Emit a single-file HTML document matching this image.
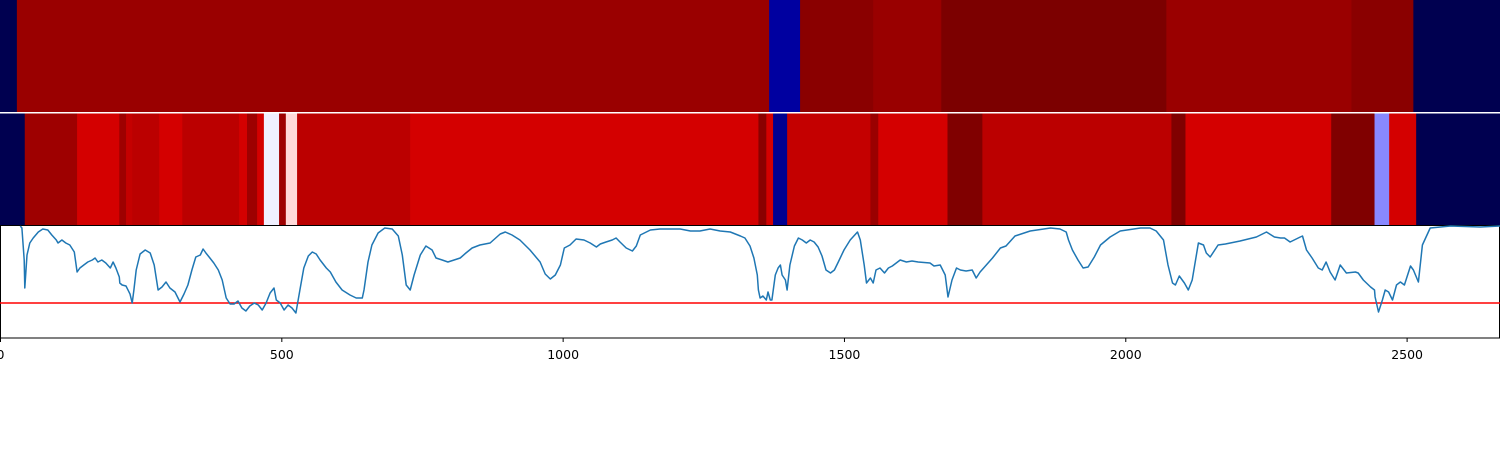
<!DOCTYPE html>
<html><head><meta charset="utf-8"><style>
body{margin:0;background:#fff}
svg{display:block}
text{font-family:"DejaVu Sans","Liberation Sans",sans-serif;font-size:12.5px;fill:#000}
</style></head><body>
<svg id="chart" width="1500" height="450" xmlns="http://www.w3.org/2000/svg">
<g id="topHeat"></g>
<g id="midHeat"></g>
<g id="plot"></g>
<g id="axis"></g>
</svg>
<script>
const xTicks=[0,500,1000,1500,2000,2500];
const topStarts=[0,30,1367,1422,1552,1673,2073,2402,2512];
const topColors=["#000050","#9a0000","#0000a0","#8a0000","#990000","#7c0000","#9a0000","#8a0000","#000050"];
const midStarts=[0,44,137,212,224,235,283,324,425,439,457,469,496,508,528,729,1348,1362,1374,1399,1547,1561,1684,1746,2082,2107,2366,2443,2469,2517];
const midColors=["#000050","#9e0000","#d40000","#9e0000","#c40000","#bb0000","#d40000","#bb0000","#d40000","#9e0000","#d40000","#f0f0ff","#9e0000","#ffd8d8","#bb0000","#d40000","#8a0000","#d40000","#000090","#c40000","#9a0000","#d40000","#800000","#bb0000","#800000","#d40000","#800000","#8888ff","#d40000","#000050"];
const lineX=[36,39,43,44,48,53,59,68,76,85,92,100,103,110,117,124,132,137,142,149,156,164,169,174,181,188,196,201,206,212,213,217,224,231,235,238,242,249,258,267,274,281,288,295,302,311,320,327,334,341,348,356,361,366,373,380,388,395,402,409,416,423,430,437,444,452,459,466,473,480,487,491,498,505,512,519,526,533,540,548,555,562,569,580,587,597,608,622,633,644,647,654,661,672,684,697,708,715,722,729,736,747,757,768,775,786,796,807,818,828,839,853,871,889,898,910,924,942,960,969,978,987,996,1003,1013,1024,1038,1049,1060,1067,1077,1088,1095,1102,1113,1124,1131,1138,1156,1173,1209,1227,1244,1262,1280,1298,1316,1324,1333,1340,1346,1348,1351,1356,1362,1365,1369,1372,1378,1383,1387,1390,1396,1399,1404,1412,1419,1426,1433,1440,1447,1454,1461,1468,1476,1483,1490,1500,1511,1524,1529,1536,1540,1547,1552,1557,1564,1572,1579,1586,1600,1611,1621,1632,1653,1660,1671,1680,1685,1692,1700,1707,1717,1728,1735,1742,1753,1764,1778,1788,1804,1831,1867,1884,1895,1899,1906,1916,1925,1934,1945,1956,1973,1991,2027,2044,2055,2068,2076,2084,2089,2096,2105,2112,2119,2130,2139,2144,2151,2165,2178,2204,2233,2251,2265,2276,2283,2293,2311,2315,2322,2332,2343,2350,2357,2364,2373,2382,2393,2409,2414,2423,2436,2443,2444,2450,2457,2462,2468,2475,2482,2489,2496,2507,2512,2521,2528,2542,2578,2631,2666];
const lineY=[112,110,78,50,83,95,100,106,109,108,103,98,95,98,95,93,86,66,70,73,76,78,80,76,78,75,70,76,70,61,55,53,52,44,35,48,68,84,88,85,73,48,51,56,50,46,36,44,53,68,81,83,89,85,80,75,68,58,40,34,34,37,30,27,32,35,33,28,35,45,50,38,35,28,33,30,25,48,70,82,86,84,78,70,66,56,48,43,40,40,48,76,93,105,110,109,102,83,53,48,63,83,92,88,80,78,76,78,80,85,90,93,95,104,106,103,98,88,76,64,59,63,73,90,93,99,98,95,91,94,96,98,100,96,90,87,92,103,108,109,109,107,107,109,107,106,102,100,92,80,63,48,40,42,38,46,38,38,63,70,73,63,58,48,73,92,100,98,95,98,96,91,82,68,65,68,76,88,98,106,98,73,55,60,55,68,70,65,70,72,78,76,77,76,75,72,73,63,41,58,70,68,67,68,60,66,73,80,90,92,102,107,110,109,106,98,88,78,70,71,81,93,101,107,110,110,107,98,73,55,53,62,55,48,58,95,93,85,81,93,94,97,101,106,101,100,100,96,101,102,88,80,70,68,76,66,58,73,65,66,65,58,51,48,41,26,38,48,46,38,53,56,53,72,68,56,93,110,112,111,112,112];
const threshold=35;
const W=1500, XMAX=2666;
const xS=v=>v/XMAX*W;
const yS=v=>338-v;
const NS="http://www.w3.org/2000/svg";
function mk(t,a,p){const e=document.createElementNS(NS,t);for(const k in a)e.setAttribute(k,a[k]);p.appendChild(e);return e;}
function heat(g,starts,colors,y0,h){
  for(let i=0;i<starts.length;i++){
    const x0=xS(starts[i]),x1=i+1<starts.length?xS(starts[i+1]):W;
    const r=mk("rect",{x:x0,y:y0,width:x1-x0+0.5,height:h,fill:colors[i]},g);
    
    
  }
}
heat(document.getElementById("topHeat"),topStarts,topColors,0,112);
heat(document.getElementById("midHeat"),midStarts,midColors,113.5,111.5);
const plot=document.getElementById("plot");
const frame=mk("rect",{x:0.5,y:225.5,width:1499,height:112.5,fill:"none",stroke:"#000","stroke-width":1},plot);


const th=mk("line",{x1:0,x2:W,y1:yS(threshold),y2:yS(threshold),stroke:"#ff0000","stroke-width":1.5},plot);


const pts=lineX.map((x,i)=>xS(x).toFixed(1)+","+yS(lineY[i]).toFixed(1)).join(" ");
const pl=mk("polyline",{points:pts,fill:"none",stroke:"#1f77b4","stroke-width":1.5,"stroke-linejoin":"round"},plot);


const ax=document.getElementById("axis");
xTicks.forEach(t=>{
  const x=xS(t)+0.5;
  const tk=mk("line",{x1:x,x2:x,y1:338,y2:342,stroke:"#000","stroke-width":1},ax);
  
  
  const lb=mk("text",{x:x,y:359,"text-anchor":"middle"},ax);
  lb.textContent=t;
  
  
});
</script>
</body></html>
